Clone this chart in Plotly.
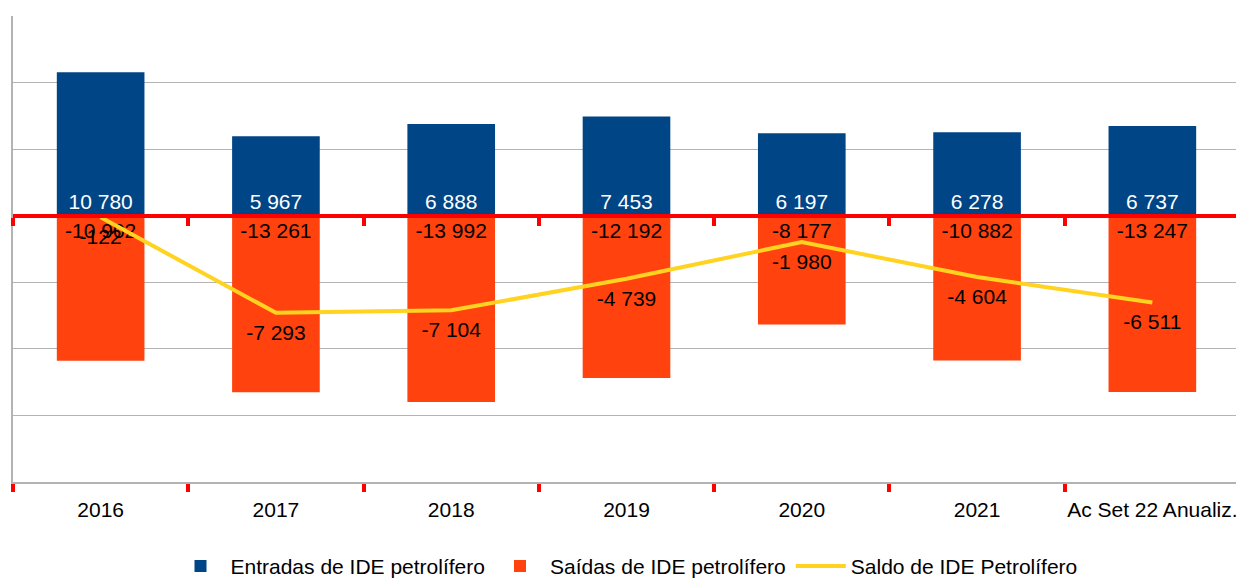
import plotly.graph_objects as go

categories = ["2016", "2017", "2018", "2019", "2020", "2021", "Ac Set 22 Anualiz."]
entradas = [10780, 5967, 6888, 7453, 6197, 6278, 6737]
saidas = [-10902, -13261, -13992, -12192, -8177, -10882, -13247]
saldo = [-122, -7293, -7104, -4739, -1980, -4604, -6511]


def fmt(v):
    return f"{v:,}".replace(",", " ")


FONT = "Liberation Sans, Arial, sans-serif"

fig = go.Figure()
fig.add_trace(go.Bar(
    x=categories, y=entradas, name="Entradas de IDE petrolífero",
    marker=dict(color="#004586", line=dict(width=0)),
    text=[fmt(v) for v in entradas], textposition="inside",
    insidetextanchor="start", textangle=0,
    textfont=dict(color="white", size=21, family=FONT),
    width=0.5,
))
fig.add_trace(go.Bar(
    x=categories, y=saidas, name="Saídas de IDE petrolífero",
    marker=dict(color="#FF420E", line=dict(width=0)),
    text=[fmt(v) for v in saidas], textposition="inside",
    insidetextanchor="start", textangle=0,
    textfont=dict(color="black", size=21, family=FONT),
    width=0.5,
))
fig.add_trace(go.Scatter(
    x=categories, y=saldo, name="Saldo de IDE Petrolífero",
    mode="lines+markers+text", line=dict(color="#FFD320", width=4),
    marker=dict(size=16, color="rgba(0,0,0,0)"),
    text=[fmt(v) for v in saldo], textposition="bottom center",
    textfont=dict(color="black", size=21, family=FONT),
    cliponaxis=False,
))
# invisible trace to carry the zero-level axis with its ticks
fig.add_trace(go.Scatter(
    x=categories, y=saldo, xaxis="x2", mode="lines",
    line=dict(width=0, color="rgba(0,0,0,0)"), showlegend=False,
    hoverinfo="skip",
))

fig.update_layout(
    width=1236, height=570,
    barmode="relative",
    plot_bgcolor="white", paper_bgcolor="white",
    font=dict(family=FONT, size=21, color="black"),
    margin=dict(l=5, r=4, t=8, b=96, autoexpand=False),
    xaxis=dict(
        type="category", categoryorder="array", categoryarray=categories,
        showline=True, linecolor="#b3b3b3", linewidth=2,
        showgrid=False, tickson="boundaries", automargin=False,
        ticks="outside", tickcolor="#ff0000", ticklen=8, tickwidth=4,
        ticklabelstandoff=8, tickangle=0,
        tickfont=dict(size=21, color="black", family=FONT),
        range=[-0.5, 6.5],
    ),
    xaxis2=dict(
        type="category", categoryorder="array", categoryarray=categories,
        overlaying="x", anchor="free", position=20000 / 35000, side="bottom",
        showline=True, linecolor="#ff0000", linewidth=4, automargin=False,
        showgrid=False, tickson="boundaries",
        ticks="outside", tickcolor="#ff0000", ticklen=8, tickwidth=4,
        showticklabels=False, range=[-0.5, 6.5],
    ),
    yaxis=dict(
        range=[-20000, 15000], dtick=5000, tick0=0, automargin=False,
        showgrid=True, gridcolor="#b3b3b3", gridwidth=1,
        showticklabels=False, zeroline=False,
        showline=True, linecolor="#b3b3b3", linewidth=2, mirror=True,
        ticks="",
    ),
    legend=dict(
        orientation="h", x=0.5, xanchor="center", y=-0.137, yanchor="top",
        font=dict(size=21, color="black", family=FONT),
        itemwidth=50, traceorder="normal",
    ),
    showlegend=True,
)

fig.write_html("out.html")
